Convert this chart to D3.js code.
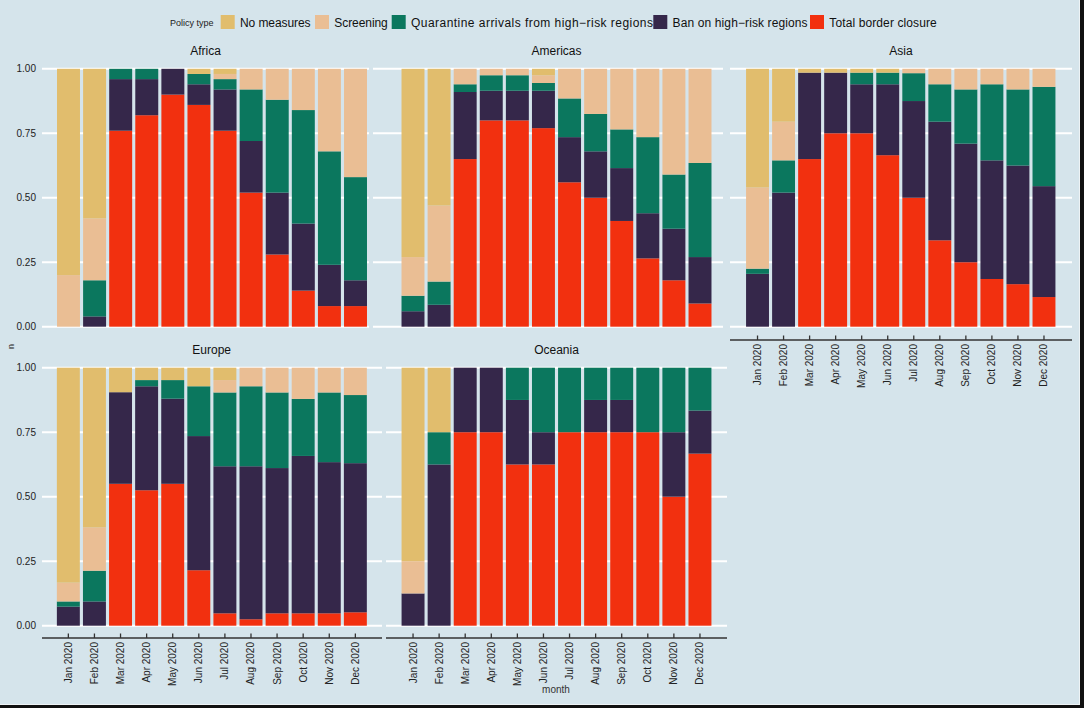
<!DOCTYPE html>
<html>
<head>
<meta charset="utf-8">
<script src="https://cdn.jsdelivr.net/npm/d3@7"></script>
<style>
  html, body { margin: 0; padding: 0; background: #d5e4eb; }
  svg { display: block; font-family: "Liberation Sans", Arial, Helvetica, sans-serif; }
</style>
</head>
<body>
<svg id="chart" width="1084" height="708"></svg>
<script>
// ---------------- DATA ----------------
const months = ["Jan 2020","Feb 2020","Mar 2020","Apr 2020","May 2020","Jun 2020",
                "Jul 2020","Aug 2020","Sep 2020","Oct 2020","Nov 2020","Dec 2020"];
// Legend order
const policies = ["No measures","Screening","Quarantine arrivals from high\u2212risk regions",
                  "Ban on high\u2212risk regions","Total border closure"];
const policyColors = ["#E1BD6D","#EABE94","#0B775E","#35274A","#F2300F"];
const yTicks = [0, 0.25, 0.5, 0.75, 1];
const regions = ["Africa","Americas","Asia","Europe","Oceania"];

// Shares per month; rows in legend order: none, screening, quarantine, ban, closure
const africaShares = [
  [0.80, 0.58, 0,    0,    0,    0.02, 0.02, 0,    0,    0,    0,    0   ],
  [0.20, 0.24, 0,    0,    0,    0,    0.02, 0.08, 0.12, 0.16, 0.32, 0.42],
  [0,    0.14, 0.04, 0.04, 0,    0.04, 0.04, 0.20, 0.36, 0.44, 0.44, 0.40],
  [0,    0.04, 0.20, 0.14, 0.10, 0.08, 0.16, 0.20, 0.24, 0.26, 0.16, 0.10],
  [0,    0,    0.76, 0.82, 0.90, 0.86, 0.76, 0.52, 0.28, 0.14, 0.08, 0.08]
];
const americasShares = [
  [0.73, 0.53,  0,    0,     0,     0.025, 0,     0,     0,     0,     0,    0    ],
  [0.15, 0.295, 0.06, 0.025, 0.025, 0.03,  0.115, 0.175, 0.235, 0.265, 0.41, 0.365],
  [0.06, 0.09,  0.03, 0.06,  0.06,  0.03,  0.15,  0.145, 0.15,  0.295, 0.21, 0.365],
  [0.06, 0.085, 0.26, 0.115, 0.115, 0.145, 0.175, 0.18,  0.205, 0.175, 0.20, 0.18 ],
  [0,    0,     0.65, 0.80,  0.80,  0.77,  0.56,  0.50,  0.41,  0.265, 0.18, 0.09 ]
];
const asiaShares = [
  [0.46,  0.205, 0.015, 0.015, 0.015, 0.015, 0,     0,     0,    0,     0,     0    ],
  [0.315, 0.15,  0,     0,     0,     0,     0.017, 0.06,  0.08, 0.06,  0.08,  0.07 ],
  [0.02,  0.125, 0,     0,     0.045, 0.045, 0.108, 0.145, 0.21, 0.295, 0.295, 0.385],
  [0.205, 0.52,  0.335, 0.235, 0.19,  0.275, 0.375, 0.46,  0.46, 0.46,  0.46,  0.43 ],
  [0,     0,     0.65,  0.75,  0.75,  0.665, 0.50,  0.335, 0.25, 0.185, 0.165, 0.115]
];
const europeShares = [
  [0.833, 0.619, 0.095, 0.048, 0.048, 0.072, 0.048, 0,     0,     0,     0,     0    ],
  [0.073, 0.168, 0,     0,     0,     0,     0.048, 0.072, 0.096, 0.121, 0.096, 0.106],
  [0.02,  0.119, 0,     0.024, 0.072, 0.193, 0.286, 0.31,  0.293, 0.221, 0.27,  0.264],
  [0.074, 0.094, 0.355, 0.403, 0.33,  0.52,  0.57,  0.593, 0.563, 0.61,  0.586, 0.578],
  [0,     0,     0.55,  0.525, 0.55,  0.215, 0.048, 0.025, 0.048, 0.048, 0.048, 0.052]
];
const oceaniaShares = [
  [0.75,  0.25,  0,    0,    0,     0,     0,    0,     0,     0,    0,    0    ],
  [0.125, 0,     0,    0,    0,     0,     0,    0,     0,     0,    0,    0    ],
  [0,     0.125, 0,    0,    0.125, 0.25,  0.25, 0.125, 0.125, 0.25, 0.25, 0.166],
  [0.125, 0.625, 0.25, 0.25, 0.25,  0.125, 0,    0.125, 0.125, 0,    0.25, 0.167],
  [0,     0,     0.75, 0.75, 0.625, 0.625, 0.75, 0.75,  0.75,  0.75, 0.5,  0.667]
];
const regionShares = [africaShares, americasShares, asiaShares, europeShares, oceaniaShares];

// ---------------- LAYOUT ----------------
const panels = [
  { x0: 42,  x1: 369,  b0: 55.45, b1: 368.55, yTop: 68.8,  yBot: 326.7, tx: 205.5, ty: 55,  yLab: true,  xAxis: null },
  { x0: 373, x1: 723,  b0: 399.95, b1: 713.05, yTop: 68.8, yBot: 326.7, tx: 556.5, ty: 55,  yLab: false, xAxis: null },
  { x0: 730, x1: 1072, b0: 744.5, b1: 1057,   yTop: 68.8,  yBot: 326.7, tx: 901,   ty: 55,  yLab: false, xAxis: 340 },
  { x0: 42,  x1: 382,  b0: 55.3,  b1: 368.4,  yTop: 367.7, yBot: 625.7, tx: 211.7, ty: 353.5, yLab: true,  xAxis: 638 },
  { x0: 386, x1: 727,  b0: 400,   b1: 713,    yTop: 367.7, yBot: 625.7, tx: 556.5, ty: 353.5, yLab: false, xAxis: 638 }
];
// legend layout: swatch x and text widths
const legendSwatchX = [220.7, 315, 391.7, 653.3, 810];
const legendTextW = [70.5, 53.5, 242, 135, 107.5];

const svg = d3.select("#chart");
svg.append("rect").attr("width", 1084).attr("height", 708).attr("fill", "#d5e4eb");

const stackOrder = [4, 3, 2, 1, 0]; // bottom to top: closure, ban, quarantine, screening, none

regions.forEach((region, ri) => {
  const p = panels[ri];
  const shares = regionShares[ri];
  const g = svg.append("g");
  const x = d3.scaleBand().domain(months).range([p.b0, p.b1]).paddingInner(0.12).paddingOuter(0.06);
  const y = d3.scaleLinear().domain([0, 1]).range([p.yBot, p.yTop]);

  // gridlines
  g.selectAll("line.grid").data(yTicks).join("line")
    .attr("x1", p.x0).attr("x2", p.x1)
    .attr("y1", d => y(d)).attr("y2", d => y(d))
    .attr("stroke", "#ffffff").attr("stroke-width", 2);

  // stacked data
  const rows = months.map((m, mi) => {
    const o = { month: m };
    policies.forEach((pol, pi) => { o[pol] = shares[pi][mi]; });
    return o;
  });
  const stack = d3.stack().keys(stackOrder.map(i => policies[i]));
  const series = stack(rows);
  series.forEach(s => {
    const color = policyColors[policies.indexOf(s.key)];
    g.append("g").selectAll("rect").data(s).join("rect")
      .attr("x", d => x(d.data.month))
      .attr("width", x.bandwidth())
      .attr("y", d => y(d[1]))
      .attr("height", d => Math.max(0, y(d[0]) - y(d[1])))
      .attr("fill", color);
  });

  // y labels
  if (p.yLab) {
    g.selectAll("text.yl").data(yTicks).join("text")
      .attr("x", 36).attr("y", d => y(d)).attr("dy", "0.35em")
      .attr("text-anchor", "end").attr("font-size", 10).attr("fill", "#222")
      .text(d => d3.format(".2f")(d));
  }

  // title
  g.append("text").attr("x", p.tx).attr("y", p.ty).attr("text-anchor", "middle")
    .attr("font-size", 12).attr("fill", "#111").text(region);

  // x axis
  if (p.xAxis !== null) {
    g.append("line").attr("x1", p.x0).attr("x2", p.x1)
      .attr("y1", p.xAxis).attr("y2", p.xAxis)
      .attr("stroke", "#333").attr("stroke-width", 1.3);
    g.selectAll("line.tick").data(months).join("line")
      .attr("x1", d => x(d) + x.bandwidth() / 2).attr("x2", d => x(d) + x.bandwidth() / 2)
      .attr("y1", p.xAxis).attr("y2", p.xAxis - 4.5)
      .attr("stroke", "#333").attr("stroke-width", 1.3);
    g.selectAll("text.xl").data(months).join("text")
      .attr("transform", d => `translate(${x(d) + x.bandwidth() / 2},${p.xAxis + 4}) rotate(-90)`)
      .attr("dy", "0.35em").attr("text-anchor", "end")
      .attr("font-size", 10).attr("fill", "#222").text(d => d);
  }
});

// axis titles
svg.append("text").attr("transform", "translate(14,346.5) rotate(-90)")
  .attr("text-anchor", "middle").attr("font-size", 9).attr("fill", "#222").text("n");
svg.append("text").attr("x", 556).attr("y", 693).attr("text-anchor", "middle")
  .attr("font-size", 10).attr("fill", "#333").text("month");

// legend
const lg = svg.append("g");
lg.append("text").attr("x", 170).attr("y", 25.5).attr("font-size", 9).attr("fill", "#222").text("Policy type");
policies.forEach((pol, i) => {
  const sx = legendSwatchX[i];
  lg.append("rect").attr("x", sx).attr("y", 15).attr("width", 14).attr("height", 14)
    .attr("fill", policyColors[i]);
  lg.append("text").attr("x", sx + 19.3).attr("y", 26.5).attr("font-size", 12)
    .attr("textLength", legendTextW[i]).attr("lengthAdjust", "spacing")
    .attr("fill", "#111").text(pol);
});

// image frame (right and bottom dark edges)
svg.append("rect").attr("x", 1079).attr("y", 0).attr("width", 1).attr("height", 705).attr("fill", "#eef3f5");
svg.append("rect").attr("x", 1080).attr("y", 0).attr("width", 4).attr("height", 708).attr("fill", "#111");
svg.append("rect").attr("x", 0).attr("y", 704).attr("width", 1080).attr("height", 1).attr("fill", "#eef3f5");
svg.append("rect").attr("x", 0).attr("y", 705).attr("width", 1084).attr("height", 3).attr("fill", "#111");
</script>
</body>
</html>
